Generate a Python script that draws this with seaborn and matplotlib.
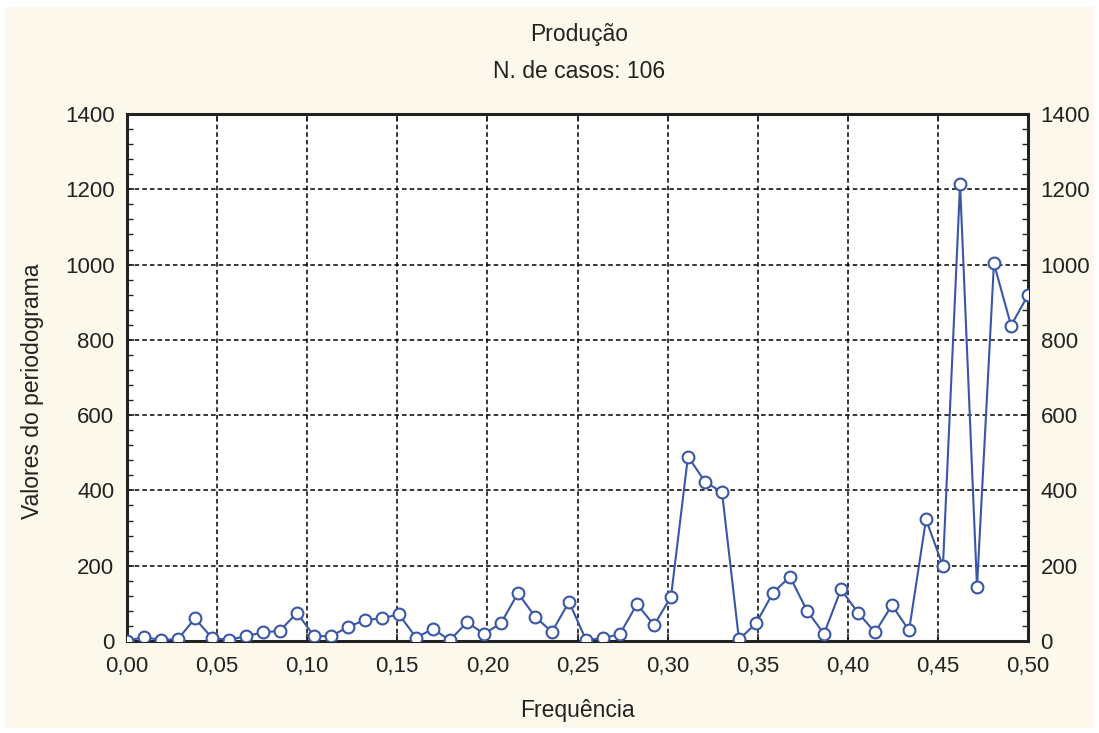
import numpy as np
import pandas as pd
import matplotlib
matplotlib.use("Agg")
import matplotlib.pyplot as plt
import seaborn as sns
from matplotlib.patches import Rectangle
from matplotlib.ticker import MultipleLocator

# data (106 cases)
freq = [0.0000, 0.0094, 0.0189, 0.0283, 0.0377, 0.0472, 0.0566, 0.0660, 0.0755, 0.0849,
        0.0943, 0.1038, 0.1132, 0.1226, 0.1321, 0.1415, 0.1509, 0.1604, 0.1698, 0.1792,
        0.1887, 0.1981, 0.2075, 0.2170, 0.2264, 0.2358, 0.2453, 0.2547, 0.2642, 0.2736,
        0.2830, 0.2925, 0.3019, 0.3113, 0.3208, 0.3302, 0.3396, 0.3491, 0.3585, 0.3679,
        0.3774, 0.3868, 0.3962, 0.4057, 0.4151, 0.4245, 0.4340, 0.4434, 0.4528, 0.4623,
        0.4717, 0.4811, 0.4906, 0.5000]
periodogram = [1, 10, 3, 5, 60, 8, 3, 13, 23, 27,
               75, 13, 13, 37, 56, 60, 71, 9, 32, 2,
               50, 19, 47, 127, 65, 24, 104, 3, 7, 19,
               98, 42, 118, 490, 423, 395, 4, 47, 128, 171,
               80, 19, 137, 75, 23, 95, 28, 323, 199, 1214,
               143, 1003, 838, 919]

x_ticks = [0.00, 0.05, 0.10, 0.15, 0.20, 0.25, 0.30, 0.35, 0.40, 0.45, 0.50]
x_tick_labels = ["0,00", "0,05", "0,10", "0,15", "0,20", "0,25",
                 "0,30", "0,35", "0,40", "0,45", "0,50"]
y_ticks = [0, 200, 400, 600, 800, 1000, 1200, 1400]

df = pd.DataFrame({"Frequência": freq, "Valores": periodogram})

sns.set_style("white")
plt.rcParams["font.family"] = ["Liberation Sans", "DejaVu Sans"]

line_color = "#3a56a6"
cream = "#fdf8ec"
text_color = "#222222"

fig = plt.figure(figsize=(10.99, 7.33), dpi=100, facecolor="white")
fig.patches.append(Rectangle((5 / 1099, 5 / 733), 1089 / 1099, 721 / 733,
                             transform=fig.transFigure, facecolor=cream,
                             edgecolor="none", zorder=-10))
ax = fig.add_axes([127 / 1099, 1 - 641 / 733, 901 / 1099, 527 / 733])
ax.set_facecolor("white")

sns.lineplot(data=df, x="Frequência", y="Valores", ax=ax, color=line_color,
             linewidth=1.5, marker="o", markersize=8.5, markerfacecolor="white",
             markeredgecolor=line_color, markeredgewidth=1.5, zorder=3)

ax.set_xlim(0, 0.5)
ax.set_ylim(0, 1400)
ax.set_xticks(x_ticks)
ax.set_xticklabels(x_tick_labels)
ax.set_yticks(y_ticks)
ax.yaxis.set_minor_locator(MultipleLocator(40))

ax.grid(True, which="major", color="black", linestyle=(0, (3, 2)), linewidth=1.1)
ax.set_axisbelow(True)

ax.tick_params(axis="both", which="both", direction="in", labelsize=16,
               colors=text_color, left=True, right=True, top=True, bottom=True,
               labelleft=True, labelright=True)
ax.tick_params(axis="both", which="major", length=5, width=1.2, pad=9)
ax.tick_params(axis="x", which="major", pad=11)
ax.tick_params(axis="y", which="minor", length=4, width=1.0)
ax.tick_params(axis="x", which="minor", length=0)

for side in ["left", "right", "top", "bottom"]:
    ax.spines[side].set_visible(True)
    ax.spines[side].set_color(text_color)
    ax.spines[side].set_linewidth(2.2)

ax.set_xlabel("Frequência", fontsize=16.5, color=text_color)
ax.set_ylabel("Valores do periodograma", fontsize=16.5, color=text_color)
ax.xaxis.set_label_coords(0.5, (641 - 699) / 527)
ax.yaxis.set_label_coords((44 - 127) / 901, (641 - 391) / 527)

fig.text(579 / 1099, 1 - 34 / 733, "Produção", ha="center", va="center",
         fontsize=16.5, color=text_color)
fig.text(579 / 1099, 1 - 71 / 733, "N. de casos: 106", ha="center", va="center",
         fontsize=16.5, color=text_color)

fig.savefig("out.png", dpi=100, facecolor="white")
